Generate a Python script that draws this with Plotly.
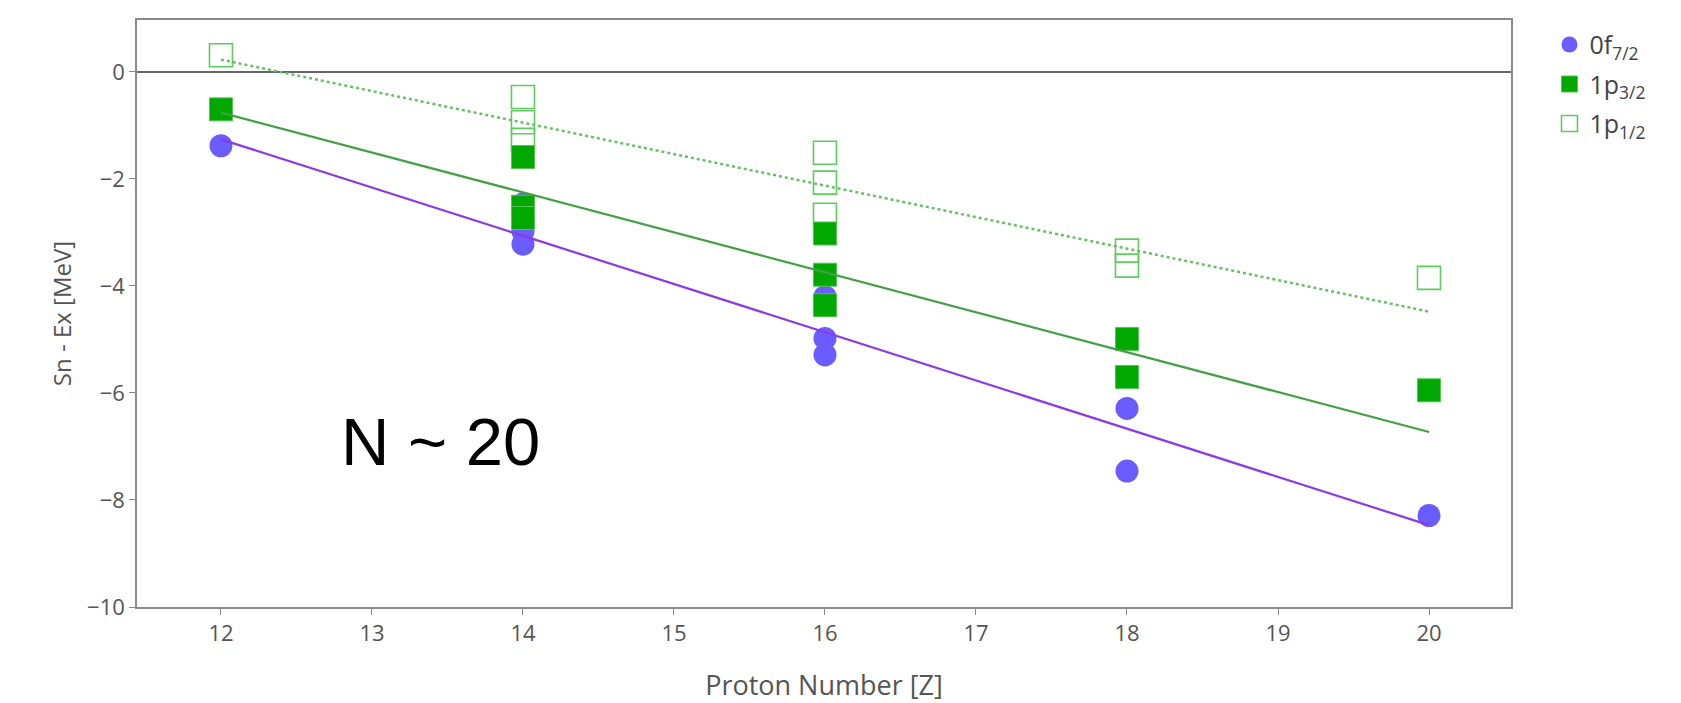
import plotly.graph_objects as go

# Separation energy minus excitation energy of single-particle states, N ~ 20
z_f72 = [12, 14, 14, 14, 16, 16, 16, 18, 18, 20]
e_f72 = [-1.38, -2.47, -2.98, -3.22, -4.20, -4.98, -5.29, -6.29, -7.46, -8.29]

z_p32 = [12, 14, 14, 14, 16, 16, 16, 18, 18, 20]
e_p32 = [-0.70, -1.59, -2.52, -2.73, -3.02, -3.79, -4.36, -4.99, -5.70, -5.95]

z_p12 = [12, 14, 14, 14, 16, 16, 16, 18, 18, 20]
e_p12 = [0.31, -0.47, -0.94, -1.27, -1.51, -2.07, -2.67, -3.34, -3.62, -3.85]

# Linear trends (endpoints of each fit)
fit_z = [12, 20]
fit_f72 = [-1.26, -8.47]
fit_p32 = [-0.76, -6.73]
fit_p12 = [0.23, -4.48]

x_ticks = [12, 13, 14, 15, 16, 17, 18, 19, 20]
y_ticks = [-10, -8, -6, -4, -2, 0]

purple = "#6a5cff"
purple_line = "#8a3be2"
green = "#00a800"
green_open = "#5fcc5f"
green_line = "#44a044"
green_dot = "#66c066"

fig = go.Figure()

fig.add_trace(go.Scatter(
    x=z_f72, y=e_f72, mode="markers", name="0f<sub>7/2</sub>", legendrank=1,
    legendgroup="f72",
    marker=dict(symbol="circle", size=23, color=purple, line=dict(width=0)),
))
fig.add_trace(go.Scatter(
    x=z_p12, y=e_p12, mode="markers", name="1p<sub>1/2</sub>", legendrank=3,
    legendgroup="p12",
    marker=dict(symbol="square-open", size=23, color=green_open, line=dict(width=1.6)),
))
fig.add_trace(go.Scatter(
    x=z_p32, y=e_p32, mode="markers", name="1p<sub>3/2</sub>", legendrank=2,
    legendgroup="p32",
    marker=dict(symbol="square", size=23, color=green, line=dict(width=1, color="#55c455")),
))

fig.add_trace(go.Scatter(x=fit_z, y=fit_f72, mode="lines", showlegend=False,
                         line=dict(color=purple_line, width=2.2)))
fig.add_trace(go.Scatter(x=fit_z, y=fit_p32, mode="lines", showlegend=False,
                         line=dict(color=green_line, width=2.2)))
fig.add_trace(go.Scatter(x=fit_z, y=fit_p12, mode="lines", showlegend=False,
                         line=dict(color=green_dot, width=2.5, dash="dot")))

fig.add_annotation(
    x=0.147, y=0.282, xref="paper", yref="paper", xanchor="left", yanchor="middle",
    text="N ~ 20", showarrow=False,
    font=dict(family="Liberation Sans, Arial, sans-serif", size=67, color="#000000"),
)

tick_font = dict(family="Open Sans, sans-serif", size=22, color="#555555")

fig.update_layout(
    width=1681, height=703,
    margin=dict(l=137, r=170, t=20, b=96, autoexpand=False),
    paper_bgcolor="white", plot_bgcolor="white",
    font=dict(family="Open Sans, sans-serif", size=22, color="#555555"),
    legend=dict(x=1.028, y=0.997, xanchor="left", yanchor="top",
                font=dict(family="Open Sans, sans-serif", size=25, color="#444444"),
                tracegroupgap=4, itemsizing="trace"),
    xaxis=dict(
        range=[11.444, 20.543], tickmode="array", tickvals=x_ticks,
        showgrid=False, zeroline=False, showline=True, mirror=True,
        linecolor="#8a8a8a", linewidth=1.5, ticks="outside", ticklen=6,
        tickcolor="#8a8a8a", tickfont=tick_font,
        title=dict(text="Proton Number [Z]",
                   font=dict(family="Open Sans, sans-serif", size=27, color="#555555"),
                   standoff=31),
    ),
    yaxis=dict(
        range=[-10, 0.97], tickmode="array", tickvals=y_ticks,
        ticktext=["\u221210", "\u22128", "\u22126", "\u22124", "\u22122", "0"],
        showgrid=False, zeroline=True, zerolinecolor="#666666", zerolinewidth=1.5,
        showline=True, mirror=True, linecolor="#8a8a8a", linewidth=1.5,
        ticks="outside", ticklen=6, tickcolor="#8a8a8a", tickfont=tick_font,
        title=dict(text="Sn - Ex [MeV]",
                   font=dict(family="Open Sans, sans-serif", size=24, color="#555555"),
                   standoff=9),
    ),
)

fig.write_html("out.html")
